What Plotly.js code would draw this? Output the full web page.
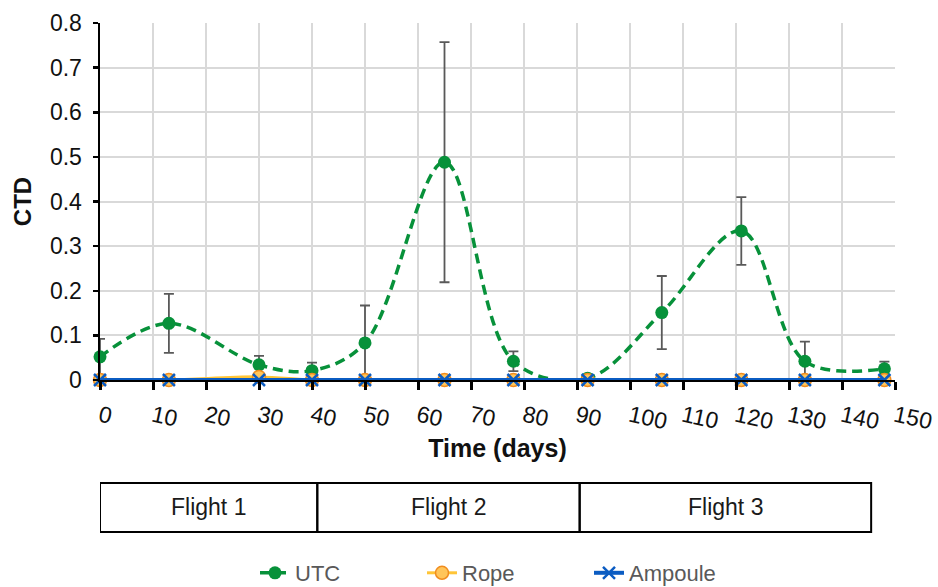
<!DOCTYPE html>
<html>
<head>
<meta charset="utf-8">
<script src="https://cdn.plot.ly/plotly-3.0.1.min.js"></script>
<style>
  html, body { margin: 0; padding: 0; background: #fff; }
  #chart { width: 938px; height: 587px; }
</style>
</head>
<body>
<div id="chart"></div>
<script>
// ---- data ----
const days      = [0, 13, 30, 40, 50, 65, 78, 92, 106, 121, 133, 148];
const utc       = [0.052, 0.127, 0.034, 0.021, 0.083, 0.488, 0.042, 0.004, 0.151, 0.334, 0.042, 0.025];
const utcErr    = [0.040, 0.066, 0.020, 0.018, 0.084, 0.269, 0.022, 0.004, 0.082, 0.076, 0.044, 0.016];
const rope      = [0, 0, 0.007, 0, 0, 0, 0, 0, 0, 0, 0, 0];
const ampoule   = [0, 0, 0, 0, 0, 0, 0, 0, 0, 0, 0, 0];
const xTicks    = [0, 10, 20, 30, 40, 50, 60, 70, 80, 90, 100, 110, 120, 130, 140, 150];
const yTicks    = [0, 0.1, 0.2, 0.3, 0.4, 0.5, 0.6, 0.7, 0.8];
const flightNames = ['Flight 1', 'Flight 2', 'Flight 3'];
const flightStart = [0, 41, 90.5];
const flightEnd   = [41, 90.5, 145.5];

const FONT = 'Liberation Sans, Arial, Helvetica, sans-serif';

const traces = [
  {
    name: 'UTC', x: days, y: utc, type: 'scatter', mode: 'lines+markers',
    line: { color: '#07913A', width: 3.5, dash: '10px,6px', shape: 'spline', smoothing: 1 },
    marker: { color: '#07913A', size: 13, symbol: 'circle' },
    error_y: { type: 'data', array: utcErr, visible: true, color: '#595959', thickness: 1.8, width: 5 },
    cliponaxis: false
  },
  {
    name: 'Rope', x: days, y: rope, type: 'scatter', mode: 'lines+markers',
    line: { color: '#FFC537', width: 3, shape: 'spline', smoothing: 1 },
    marker: { color: '#FFC55A', size: 13, symbol: 'circle', line: { color: '#F08C1E', width: 1.5 } },
    cliponaxis: false
  },
  {
    name: 'Ampoule', x: days, y: ampoule, type: 'scatter', mode: 'lines+markers',
    line: { color: '#0B5CC2', width: 4 },
    marker: { color: '#0B5CC2', size: 12, symbol: 'x-thin-open', line: { color: '#0B6BD0', width: 2.5 } },
    cliponaxis: false
  }
];

const pb = 380, ph = 357; // helper to convert pixel rows to paper
const py = v => (pb - v) / ph;

const shapes = flightNames.map((n, i) => ({
  type: 'rect', xref: 'x', yref: 'paper',
  x0: flightStart[i], x1: flightEnd[i], y0: py(532), y1: py(483),
  line: { color: '#000', width: 2 }, fillcolor: 'rgba(0,0,0,0)', layer: 'above'
}));

const annotations = flightNames.map((n, i) => ({
  text: n, xref: 'x', yref: 'paper',
  x: (flightStart[i] + flightEnd[i]) / 2, y: py(507), showarrow: false,
  xanchor: 'center', yanchor: 'middle',
  font: { family: FONT, size: 23, color: '#1a1a1a' }
}));

const layout = {
  width: 938, height: 587,
  paper_bgcolor: '#fff', plot_bgcolor: '#fff',
  margin: { l: 100, r: 43, t: 23, b: 207, autoexpand: false },
  font: { family: FONT, color: '#111' },
  showlegend: true,
  legend: {
    orientation: 'h', x: (255 - 100) / 795, xanchor: 'left', y: py(552), yanchor: 'top',
    font: { family: FONT, size: 22, color: '#595959' }, traceorder: 'normal',
    itemwidth: 30, entrywidth: 122, entrywidthmode: 'pixels'
  },
  xaxis: {
    range: [0, 150], tickmode: 'array', tickvals: xTicks, ticktext: xTicks.map(String),
    showgrid: true, gridcolor: '#D9D9D9', gridwidth: 2,
    showline: true, linecolor: '#000', linewidth: 2,
    ticks: 'outside', ticklen: 8, tickwidth: 3, tickcolor: '#000',
    tickangle: 12, tickfont: { family: FONT, size: 23, color: '#111' },
    ticklabelstandoff: 4,
    zeroline: false,
    title: { text: 'Time (days)', font: { family: FONT, size: 25, color: '#111', weight: 'bold' }, standoff: 6 }
  },
  yaxis: {
    range: [0, 0.8], tickmode: 'array', tickvals: yTicks, ticktext: yTicks.map(String),
    showgrid: true, gridcolor: '#D9D9D9', gridwidth: 2,
    showline: true, linecolor: '#000', linewidth: 2.5,
    ticks: 'outside', ticklen: 5, tickwidth: 2.5, tickcolor: '#000',
    tickfont: { family: FONT, size: 23, color: '#111' },
    ticklabelstandoff: 6,
    zeroline: false,
    title: { text: 'CTD', font: { family: FONT, size: 24, color: '#111', weight: 'bold' }, standoff: 12 }
  },
  shapes: shapes,
  annotations: annotations
};

Plotly.newPlot('chart', traces, layout, { displayModeBar: false, staticPlot: true });
</script>
</body>
</html>
